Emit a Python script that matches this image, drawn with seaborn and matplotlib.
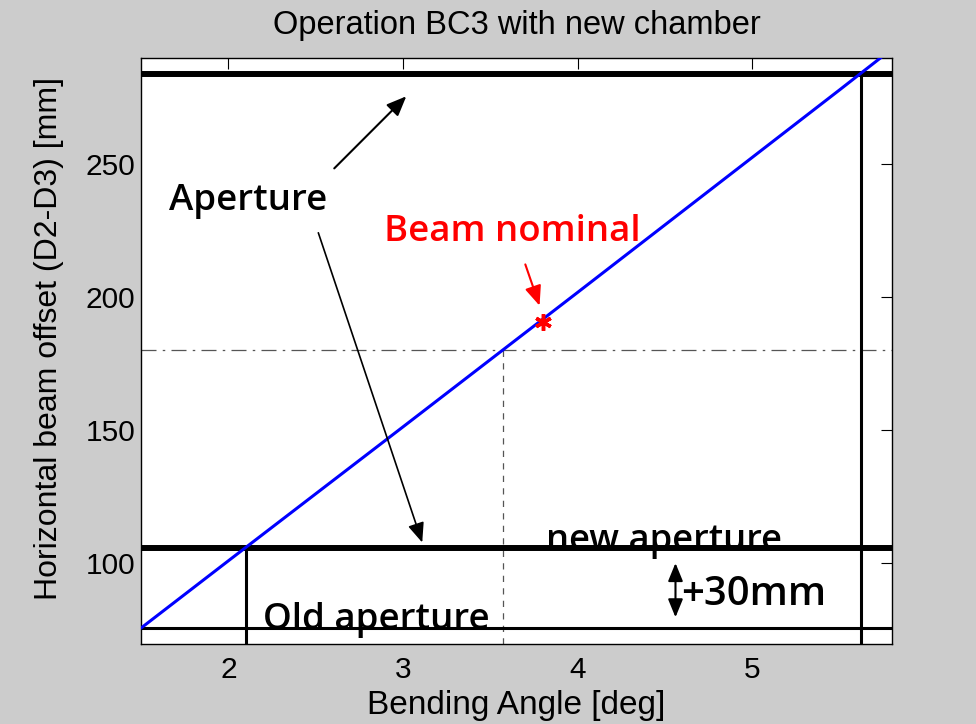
import matplotlib
matplotlib.use("Agg")
import matplotlib.pyplot as plt
import pandas as pd
import seaborn as sns

# beam offset vs bending angle
angle = [1.5, 2.0, 2.5, 3.0, 3.5, 4.0, 4.5, 5.0, 5.5, 5.8]
offset = [75.5, 100.8, 126.0, 151.2, 176.5, 201.8, 227.2, 252.6, 278.0, 293.4]

# aperture levels [mm] and angles where the beam reaches them [deg]
old_aperture = 75.6
new_aperture = 105.6
top_aperture = 284.0
old_limit_angle = 2.1
new_limit_angle = 5.62

# reference level
ref_offset = 180.0
ref_angle = 3.57

# nominal working point
nominal_angle = 3.8
nominal_offset = 190.7

x_ticks = [2, 3, 4, 5]
y_ticks = [100, 150, 200, 250]

df = pd.DataFrame({"angle": angle, "offset": offset})

sns.set_style("white")
plt.rcParams["font.family"] = ["Liberation Sans", "DejaVu Sans"]
plt.rcParams["text.color"] = "black"
plt.rcParams["axes.labelcolor"] = "black"
plt.rcParams["axes.titlecolor"] = "black"
ann_font = ["Open Sans", "DejaVu Sans"]

fig = plt.figure(figsize=(9.76, 7.24), dpi=100, facecolor="#cccccc")
ax = fig.add_axes([0.1445, 0.1105, 0.7695, 0.8095])
ax.set_facecolor("white")

# aperture lines
ax.axhline(top_aperture, color="black", lw=4.3, zorder=2)
ax.axhline(new_aperture, color="black", lw=4.3, zorder=2)
ax.axhline(old_aperture, color="black", lw=2.2, zorder=2)
ax.plot([old_limit_angle, old_limit_angle], [60, new_aperture], color="black", lw=2.2, zorder=2)
ax.plot([new_limit_angle, new_limit_angle], [60, top_aperture], color="black", lw=2.2, zorder=2)

# reference dashed lines
ax.axhline(ref_offset, color="#555555", lw=0.9, ls=(0, (12, 5, 2, 5)), zorder=1)
ax.plot([ref_angle, ref_angle], [60, ref_offset], color="#555555", lw=0.9, ls=(0, (5, 5)), zorder=1)

# beam offset curve
sns.lineplot(data=df, x="angle", y="offset", ax=ax, color="#0000ff", lw=2.2, zorder=3)

# nominal point
ax.plot([nominal_angle], [nominal_offset], marker=(6, 2, 0), color="red", ms=12, mew=2.5, zorder=4)

ax.set_xlim(1.5, 5.8)
ax.set_ylim(69.5, 290)
ax.set_xticks(x_ticks)
ax.set_yticks(y_ticks)
ax.tick_params(direction="in", length=8, width=0.8, top=True, right=True,
               labelsize=21.5, colors="black")
ax.tick_params(axis="x", pad=9)
ax.tick_params(axis="y", pad=4)
for s in ax.spines.values():
    s.set_color("black")
    s.set_linewidth(1.0)

ax.set_xlabel("Bending Angle [deg]", fontsize=24, labelpad=4)
ax.set_ylabel("Horizontal beam offset (D2-D3) [mm]", fontsize=23)
ax.yaxis.set_label_coords(-0.102, 0.522)
ax.set_title("Operation BC3 with new chamber", fontsize=23.5, pad=17)

# annotations
head = "-|>,head_length=1.2,head_width=0.5"
ax.text(1.66, 236, "Aperture", fontsize=26.5, family=ann_font, weight="semibold", va="center", ha="left")
ax.annotate("", xy=(3.03, 276.3), xytext=(2.595, 247.7),
            arrowprops=dict(arrowstyle=head, color="black", lw=1.5))
ax.annotate("", xy=(3.115, 106.7), xytext=(2.51, 225.2),
            arrowprops=dict(arrowstyle=head, color="black", lw=1.2))

ax.text(2.89, 224.5, "Beam nominal", fontsize=26.3, family=ann_font, weight="semibold",
        color="red", va="center", ha="left")
ax.annotate("", xy=(3.787, 195.8), xytext=(3.695, 213.3),
            arrowprops=dict(arrowstyle=head, color="red", lw=1.5))

ax.text(3.82, 105.0, "new aperture", fontsize=26.2, family=ann_font, weight="semibold",
        va="baseline", ha="left")
ax.text(2.2, 75.2, "Old aperture", fontsize=26.4, family=ann_font, weight="semibold",
        va="baseline", ha="left")
ax.annotate("", xy=(4.56, 101), xytext=(4.56, 78.5),
            arrowprops=dict(arrowstyle="<|-|>,head_length=1.1,head_width=0.45", color="black", lw=1.5))
ax.text(4.59, 87.8, "+30mm", fontsize=28.8, family=ann_font, weight="semibold", va="center", ha="left")

fig.savefig("out.png", dpi=100, facecolor=fig.get_facecolor())
